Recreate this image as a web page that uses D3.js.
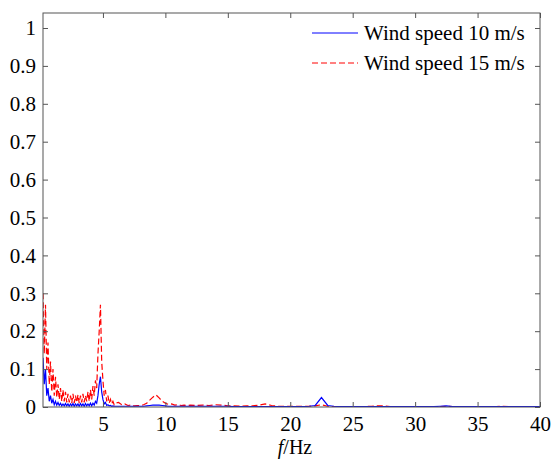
<!DOCTYPE html>
<html>
<head>
<script src="https://cdnjs.cloudflare.com/ajax/libs/d3/7.8.5/d3.min.js"></script>
<style>
  body { margin: 0; background: #fff; }
</style>
</head>
<body>
<script>

// frequency grid (Hz) shared by both spectra
var freq = [
  0.2, 0.3, 0.4, 0.5, 0.6, 0.7, 0.8, 0.9, 1.0, 1.1, 1.2, 1.3, 1.4, 1.5, 1.6, 1.7, 1.8, 1.9, 2.0,
  2.1, 2.2, 2.3, 2.4, 2.5, 2.6, 2.7, 2.8, 2.9, 3.0, 3.1, 3.2, 3.3, 3.4, 3.5, 3.6, 3.7, 3.8, 3.9, 4.0,
  4.1, 4.2, 4.3, 4.4, 4.5, 4.6, 4.7, 4.8, 4.9, 5.0, 5.1, 5.2, 5.3, 5.4, 5.5, 5.6, 5.7, 5.8, 5.9, 6.0,
  6.25, 6.5, 6.75, 7.0, 7.25, 7.5, 7.75, 8.0, 8.25, 8.5, 8.75, 9.0, 9.25, 9.5, 9.75, 10.0,
  10.25, 10.5, 10.75, 11.0, 11.25, 11.5, 11.75, 12.0,
  12.5, 13, 13.5, 14, 14.5, 15, 15.5, 16, 16.5, 17, 17.5, 18, 18.5, 19, 19.5, 20,
  20.5, 21, 21.5, 22, 22.5, 23, 23.5, 24, 24.5, 25, 25.5, 26, 26.5, 27, 27.5, 28,
  28.5, 29, 29.5, 30, 30.5, 31, 31.5, 32, 32.5, 33, 33.5, 34, 34.5, 35, 35.5, 36,
  36.5, 37, 37.5, 38, 38.5, 39, 39.5, 40
];

// wind speed 10 m/s (blue, solid)
var speed10 = [
  0.13, 0.06, 0.10, 0.03, 0.05, 0.015, 0.03, 0.01, 0.02, 0.006, 0.015, 0.005, 0.012, 0.004, 0.01, 0.003, 0.008, 0.003, 0.009,
  0.003, 0.008, 0.002, 0.008, 0.003, 0.009, 0.002, 0.008, 0.003, 0.008, 0.002, 0.009, 0.003, 0.008, 0.002, 0.009, 0.003, 0.008, 0.003, 0.01,
  0.003, 0.01, 0.005, 0.015, 0.01, 0.03, 0.06, 0.08, 0.04, 0.02, 0.008, 0.012, 0.004, 0.006, 0.003, 0.004, 0.002, 0.003, 0.002, 0.002,
  0.002, 0.002, 0.002, 0.002, 0.002, 0.002, 0.002, 0.002, 0.002, 0.003, 0.004, 0.005, 0.005, 0.005, 0.004, 0.003,
  0.002, 0.002, 0.002, 0.002, 0.002, 0.002, 0.002, 0.002,
  0.002, 0.002, 0.002, 0.002, 0.002, 0.002, 0.001, 0.001, 0.001, 0.001, 0.001, 0.001, 0.001, 0.001, 0.001, 0.001,
  0.001, 0.001, 0.002, 0.004, 0.025, 0.004, 0.002, 0.001, 0.001, 0.001, 0.001, 0.001, 0.001, 0.001, 0.001, 0.001,
  0.001, 0.001, 0.001, 0.001, 0.001, 0.001, 0.001, 0.002, 0.003, 0.001, 0.001, 0.001, 0.001, 0.001, 0.001, 0.001,
  0.001, 0.001, 0.001, 0.001, 0.001, 0.001, 0.001, 0.001
];

// wind speed 15 m/s (red, dashed)
var speed15 = [
  0.30, 0.14, 0.27, 0.10, 0.17, 0.06, 0.12, 0.04, 0.10, 0.03, 0.08, 0.025, 0.06, 0.02, 0.05, 0.015, 0.045, 0.015, 0.04,
  0.012, 0.035, 0.012, 0.03, 0.01, 0.035, 0.01, 0.03, 0.012, 0.032, 0.01, 0.03, 0.012, 0.035, 0.012, 0.03, 0.015, 0.04, 0.015, 0.045,
  0.02, 0.055, 0.03, 0.07, 0.05, 0.14, 0.20, 0.27, 0.12, 0.07, 0.03, 0.045, 0.015, 0.03, 0.01, 0.02, 0.008, 0.015, 0.006, 0.01,
  0.012, 0.006, 0.008, 0.004, 0.005, 0.003, 0.004, 0.004, 0.006, 0.01, 0.018, 0.026, 0.032, 0.024, 0.015, 0.01,
  0.007, 0.008, 0.005, 0.006, 0.004, 0.005, 0.004, 0.005,
  0.004, 0.005, 0.004, 0.006, 0.005, 0.003, 0.003, 0.002, 0.003, 0.003, 0.005, 0.008, 0.004, 0.002, 0.002, 0.002,
  0.002, 0.002, 0.002, 0.003, 0.006, 0.002, 0.001, 0.001, 0.001, 0.001, 0.001, 0.001, 0.002, 0.003, 0.003, 0.001,
  0.001, 0.001, 0.001, 0.001, 0.001, 0.001, 0.001, 0.001, 0.002, 0.001, 0.001, 0.001, 0.001, 0.001, 0.001, 0.001,
  0.001, 0.002, 0.001, 0.001, 0.001, 0.001, 0.001, 0.001
];

var xTicks = [5, 10, 15, 20, 25, 30, 35, 40];
var yTicks = [0, 0.1, 0.2, 0.3, 0.4, 0.5, 0.6, 0.7, 0.8, 0.9, 1];
var yTickLabels = ["0", "0.1", "0.2", "0.3", "0.4", "0.5", "0.6", "0.7", "0.8", "0.9", "1"];
var seriesNames = ["Wind speed 10 m/s", "Wind speed 15 m/s"];

var width = 552,
    height = 459,
    pLeft = 43, pRight = 540, pTop = 13, pBottom = 407;

var serif = "Liberation Serif";

var x = d3.scaleLinear().domain([0.2, 40]).range([pLeft, pRight]);
var y = d3.scaleLinear().domain([0, 1]).range([pBottom, 28]);

var svg = d3.select("body").append("svg")
    .attr("width", width)
    .attr("height", height);

svg.append("rect")
    .attr("width", width).attr("height", height).attr("fill", "#fff");

svg.append("clipPath").attr("id", "clip")
   .append("rect")
   .attr("x", pLeft).attr("y", pTop)
   .attr("width", pRight - pLeft).attr("height", pBottom - pTop);

var line = d3.line()
    .x((d, i) => x(freq[i]))
    .y(d => y(d));

var plot = svg.append("g").attr("clip-path", "url(#clip)");

plot.append("path")
    .datum(speed15)
    .attr("d", line)
    .attr("fill", "none")
    .attr("stroke", "#ff0000")
    .attr("stroke-width", 1.2)
    .attr("stroke-dasharray", "6,3");

plot.append("path")
    .datum(speed10)
    .attr("d", line)
    .attr("fill", "none")
    .attr("stroke", "#0000ff")
    .attr("stroke-width", 1.2);

// axes (ticks inside, box all round)
var axisColor = "#555";

var gx = svg.append("g")
    .attr("transform", "translate(0," + pBottom + ")")
    .call(d3.axisBottom(x).tickValues(xTicks).tickSize(-5).tickPadding(9));

var gy = svg.append("g")
    .attr("transform", "translate(" + pLeft + ",0)")
    .call(d3.axisLeft(y).tickValues(yTicks).tickSize(-5).tickPadding(7)
            .tickFormat((d, i) => yTickLabels[i]));

var gxTop = svg.append("g")
    .attr("transform", "translate(0," + pTop + ")")
    .call(d3.axisTop(x).tickValues(xTicks).tickSize(-5).tickFormat(""));

var gyRight = svg.append("g")
    .attr("transform", "translate(" + pRight + ",0)")
    .call(d3.axisRight(y).tickValues(yTicks).tickSize(-5).tickFormat(""));

[gx, gy, gxTop, gyRight].forEach(g => {
    g.select(".domain").remove();
    g.selectAll("line").attr("stroke", axisColor);
    g.selectAll("text")
     .attr("font-family", serif)
     .attr("font-size", 21)
     .attr("fill", "#000");
});

svg.append("rect")
    .attr("x", pLeft).attr("y", pTop)
    .attr("width", pRight - pLeft).attr("height", pBottom - pTop)
    .attr("fill", "none")
    .attr("stroke", axisColor)
    .attr("stroke-width", 1);

// x label
var xl = svg.append("text")
    .attr("x", 295).attr("y", 454)
    .attr("text-anchor", "middle")
    .attr("font-family", serif)
    .attr("font-size", 20)
    .attr("fill", "#000");
xl.append("tspan").attr("font-style", "italic").text("f");
xl.append("tspan").text("/Hz");

// legend
var legend = svg.append("g");
var legendStyles = [
    { color: "#0000ff", dash: null },
    { color: "#ff0000", dash: "6,3" }
];
seriesNames.forEach((name, i) => {
    var ly = 33 + i * 30;
    legend.append("line")
        .attr("x1", 312).attr("x2", 358)
        .attr("y1", ly).attr("y2", ly)
        .attr("stroke", legendStyles[i].color)
        .attr("stroke-width", 1)
        .attr("stroke-dasharray", legendStyles[i].dash);
    legend.append("text")
        .attr("x", 364).attr("y", ly + 7)
        .attr("font-family", serif)
        .attr("font-size", 21)
        .attr("fill", "#000")
        .text(name);
});

</script>
</body>
</html>
